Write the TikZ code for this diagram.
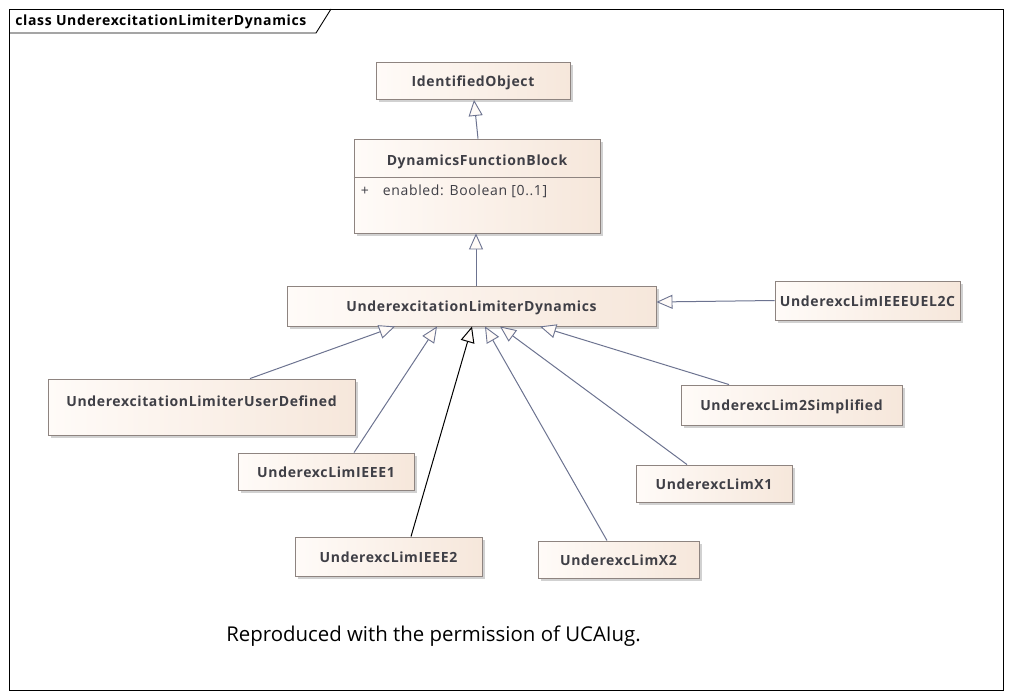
\documentclass[tikz,border=0pt]{standalone}
\usepackage{fontspec}
\setmainfont{Open Sans}
\newfontfamily\clsfont[LetterSpace=4.5]{Open Sans}
\usetikzlibrary{positioning,arrows.meta,shadows}

\definecolor{boxline}{HTML}{8E8480}
\definecolor{boxleft}{HTML}{FFFBF8}
\definecolor{boxright}{HTML}{F6E7DB}
\definecolor{linkcol}{HTML}{6C7390}
\definecolor{nametxt}{HTML}{3F3F46}

\begin{document}
\begin{tikzpicture}[x=1pt,y=-1pt,thick,
  >={Triangle[length=16pt,width=14pt,fill=boxleft,line width=0.9pt]}]
\tikzstyle{cls}=[rectangle,draw=boxline,line width=0.9pt,left color=boxleft,right color=boxright,
  drop shadow={shadow xshift=3pt,shadow yshift=-3pt,fill=black!30,opacity=0.6},
  text=nametxt,font=\clsfont\fontsize{14}{16}\selectfont\bfseries,align=center,inner sep=0pt,
  text height=12pt,text depth=0.5pt]
\tikzstyle{gen}=[->,draw=linkcol,line width=1pt]

\useasboundingbox (0,0) rectangle (1011,698);

% Frame and title tab
\draw[line width=0.9pt] (9,9) rectangle (1003,690);
\draw[line width=0.9pt] (9,33) -- (316,33) -- (331,9);
\node[anchor=west,inner sep=0pt,font=\clsfont\fontsize{14}{16}\selectfont\bfseries] (title) at (15,22) {class UnderexcitationLimiterDynamics};

% Parents
\node[cls,minimum width=194pt,minimum height=37pt] (IO) at (473,81) {IdentifiedObject};
\node[cls,minimum width=246pt,minimum height=94pt] (DFB) at (477,186) {};
\node[text=nametxt,font=\clsfont\fontsize{14}{16}\selectfont\bfseries,inner sep=0pt] (DFBname) at (477,162) {DynamicsFunctionBlock};
\draw[draw=boxline,line width=0.9pt] ([yshift=-39pt]DFB.north west) -- ([yshift=-39pt]DFB.north east);
\node[anchor=west,text=nametxt,font=\clsfont\fontsize{14}{16}\selectfont,inner sep=0pt] (DFBattr) at ([xshift=7pt,yshift=-53pt]DFB.north west) {+\hspace{14pt}enabled: Boolean [0..1]};

\node[cls,minimum width=369pt,minimum height=40pt] (ULD) at (471.5,306) {UnderexcitationLimiterDynamics};

% Subclasses
\node[cls,minimum width=185pt,minimum height=39pt] (UEL2C) at (867.5,300.5) {UnderexcLimIEEEUEL2C};
\node[cls,minimum width=307pt,minimum height=56pt,text depth=14pt] (UD) at (201.5,407) {UnderexcitationLimiterUserDefined};
\node[cls,minimum width=221pt,minimum height=40pt] (SIMP) at (791.5,405) {UnderexcLim2Simplified};
\node[cls,minimum width=176pt,minimum height=37pt] (IEEE1) at (326,471.5) {UnderexcLimIEEE1};
\node[cls,minimum width=156pt,minimum height=37pt] (X1) at (714,483.5) {UnderexcLimX1};
\node[cls,minimum width=187pt,minimum height=39pt] (IEEE2) at (388.5,556.5) {UnderexcLimIEEE2};
\node[cls,minimum width=161pt,minimum height=37pt] (X2) at (618.5,559.5) {UnderexcLimX2};

% Generalizations
\draw[gen] ([xshift=1pt]DFB.north) -- ([xshift=1pt]IO.south);
\draw[gen] ([xshift=4.5pt]ULD.north) -- ([xshift=-1pt]DFB.south);
\draw[gen] (UEL2C.west) -- ([yshift=4pt]ULD.east);
\draw[gen] ([xshift=48.5pt]UD.north) -- ([xshift=-76.5pt]ULD.south);
\draw[gen] ([xshift=28pt]IEEE1.north) -- ([xshift=-34.5pt]ULD.south);
\draw[gen,draw=black,>={Triangle[length=16pt,width=14pt,line width=1pt,color=black,fill=boxleft]}] ([xshift=22.5pt]IEEE2.north) -- ([xshift=0.5pt]ULD.south);
\draw[gen] ([xshift=-11.5pt]X2.north) -- ([xshift=13.5pt]ULD.south);
\draw[gen] ([xshift=-27pt]X1.north) -- ([xshift=28.5pt]ULD.south);
\draw[gen] ([xshift=-62.5pt]SIMP.north) -- ([xshift=68.5pt]ULD.south);

% Note
\node[font=\fontsize{20.4}{24}\selectfont,inner sep=0pt] (note) at (433.5,636) {Reproduced with the permission of UCAIug.};
\end{tikzpicture}
\end{document}
